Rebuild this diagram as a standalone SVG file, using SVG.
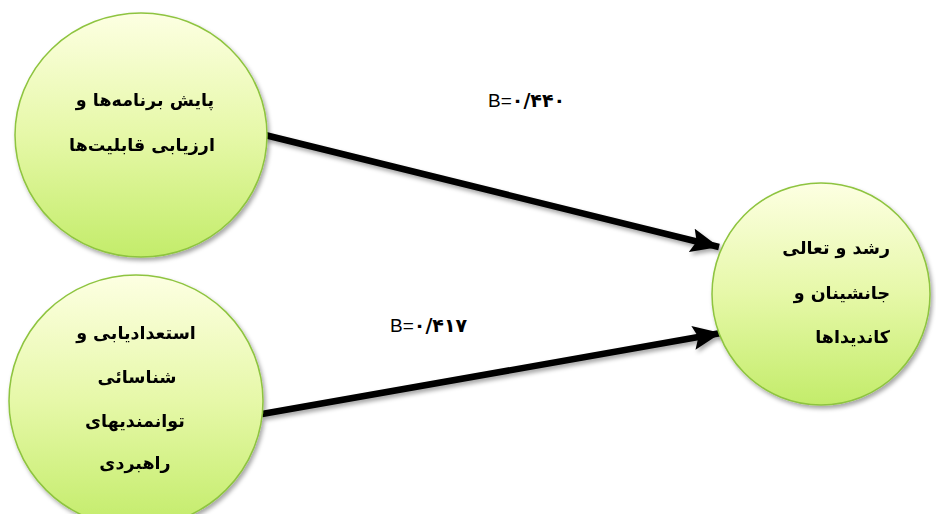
<svg xmlns="http://www.w3.org/2000/svg" width="936" height="514" viewBox="0 0 936 514">
<style>
.node{stroke:#8ec43f;stroke-width:1.5;fill:url(#g)}
.lbl{font-family:"DejaVu Sans",sans-serif;font-weight:bold;font-size:17.5px;fill:#000}
.b{font-family:"Liberation Sans","DejaVu Sans",sans-serif;font-size:19px;fill:#000}
.d{font-family:"DejaVu Sans",sans-serif;font-weight:bold;font-size:19px}
.edge{stroke:#000;stroke-width:6.5;fill:none}
</style>
<defs>
<linearGradient id="g" x1="0" y1="0" x2="0" y2="1">
<stop offset="0" stop-color="#fdffe2"/>
<stop offset="0.5" stop-color="#e6f8a8"/>
<stop offset="1" stop-color="#c3ec6a"/>
</linearGradient>
<filter id="sh" x="-10%" y="-10%" width="130%" height="130%">
<feDropShadow dx="2" dy="3" stdDeviation="2" flood-color="#000" flood-opacity="0.35"/>
</filter>
<marker id="ah" markerUnits="userSpaceOnUse" markerWidth="32" markerHeight="26" refX="28" refY="12" orient="auto">
<path d="M0,0 L28,12 L0,24 L5,12 Z" fill="#000"/>
</marker>
</defs>
<g id="connectors" filter="url(#sh)">
<line class="edge" x1="265" y1="135" x2="719" y2="247" marker-end="url(#ah)"/>
<line class="edge" x1="262" y1="414" x2="721" y2="333" marker-end="url(#ah)"/>
</g>
<g id="n1" filter="url(#sh)">
<ellipse class="node" cx="141" cy="135" rx="126" ry="122"/>
<text class="lbl" x="145" y="106" text-anchor="middle">پایش برنامه‌ها و</text>
<text class="lbl" x="142" y="151" text-anchor="middle">ارزیابی قابلیت‌ها</text>
</g>
<g id="n2" filter="url(#sh)">
<ellipse class="node" cx="136" cy="401" rx="127" ry="126"/>
<text class="lbl" x="136" y="339" text-anchor="middle">استعدادیابی و</text>
<text class="lbl" x="137" y="383" text-anchor="middle">شناسائی</text>
<text class="lbl" x="135" y="427" text-anchor="middle">توانمندیهای</text>
<text class="lbl" x="135" y="469" text-anchor="middle">راهبردی</text>
</g>
<g id="n3" filter="url(#sh)">
<ellipse class="node" cx="821" cy="294" rx="109" ry="111"/>
<text class="lbl" x="890" y="254" text-anchor="end">رشد و تعالی</text>
<text class="lbl" x="890" y="299" text-anchor="end">جانشینان و</text>
<text class="lbl" x="890" y="343" text-anchor="end">کاندیداها</text>
</g>
<g id="labels">
<text class="b" x="488" y="107">B=<tspan class="d">۰/۴۴۰</tspan></text>
<text class="b" x="390" y="332">B=<tspan class="d">۰/۴۱۷</tspan></text>
</g>
</svg>
